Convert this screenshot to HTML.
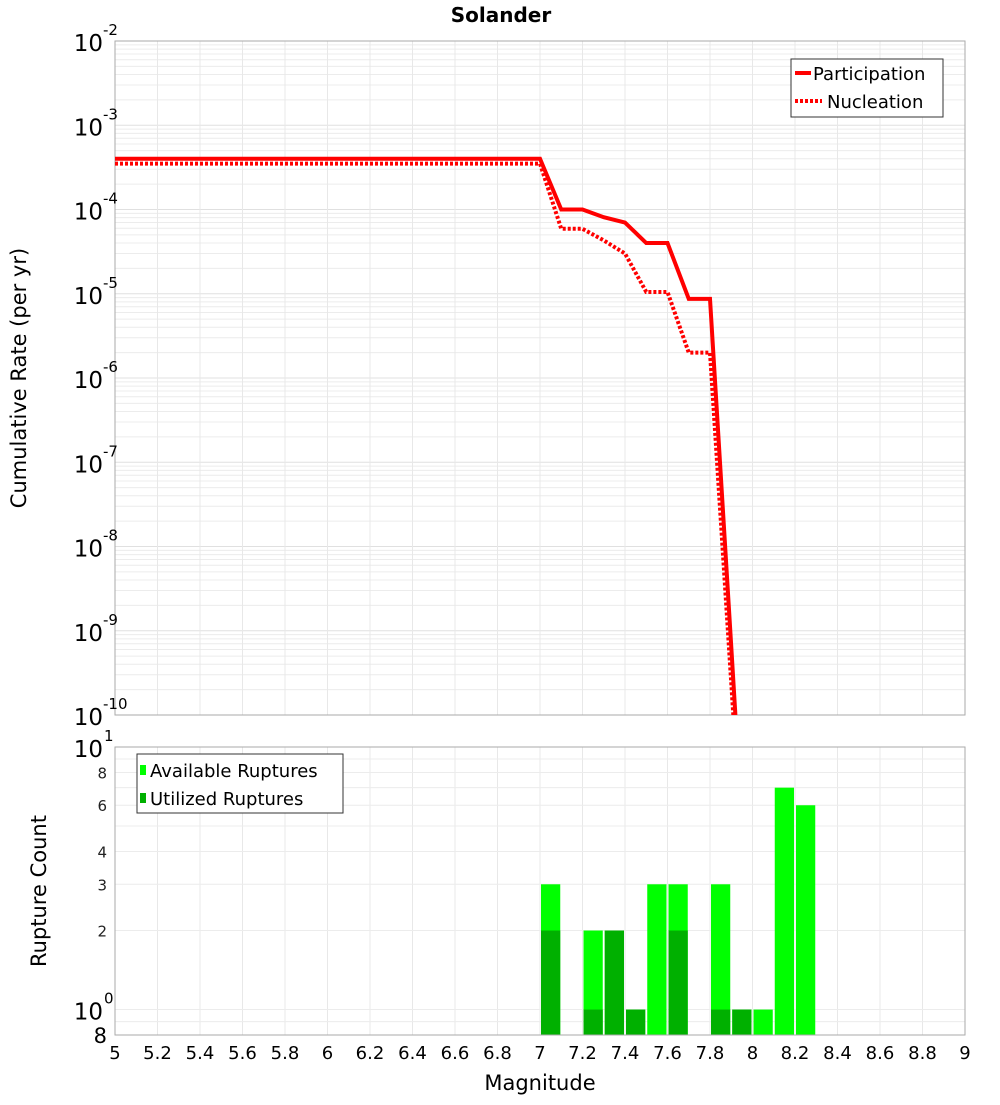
<!DOCTYPE html>
<html><head><meta charset="utf-8"><style>
body{margin:0;background:#fff}
svg text{font-family:"DejaVu Sans","Liberation Sans",sans-serif}
</style></head><body>
<svg id="chart" width="1000" height="1100" xmlns="http://www.w3.org/2000/svg">
<rect width="1000" height="1100" fill="#fff"/>
<text x="501" y="22" font-size="20" font-weight="bold" text-anchor="middle">Solander</text>
<g id="gtop"></g>
<g id="gbot"></g>
<text transform="translate(26,378) rotate(-90)" font-size="21" text-anchor="middle">Cumulative Rate (per yr)</text>
<text transform="translate(46,891) rotate(-90)" font-size="21" text-anchor="middle">Rupture Count</text>
<text x="540" y="1090" font-size="21" text-anchor="middle">Magnitude</text>
<g>
<rect x="791" y="59" width="152" height="58" fill="#fff" stroke="#333"/>
<line x1="795" y1="73" x2="811" y2="73" stroke="red" stroke-width="4"/>
<text x="813" y="80" font-size="18">Participation</text>
<line x1="795" y1="101" x2="822" y2="101" stroke="red" stroke-width="4" stroke-dasharray="3,2"/>
<text x="827" y="108" font-size="18">Nucleation</text>
</g>
<g>
<rect x="137" y="754" width="206" height="59" fill="#fff" stroke="#333"/>
<rect x="140" y="765" width="6" height="10" fill="#00ff00"/>
<text x="150" y="777" font-size="18">Available Ruptures</text>
<rect x="140" y="793" width="6" height="10" fill="#00b000"/>
<text x="150" y="805" font-size="18">Utilized Ruptures</text>
</g>
</svg>
<script>
const mags=[5.0,7.0,7.1,7.2,7.3,7.4,7.5,7.6,7.7,7.8,7.9,8.0];
const participation=[4.0e-4,4.0e-4,1.0e-4,1.0e-4,8.1e-5,7.0e-5,4.0e-5,4.0e-5,8.7e-6,8.7e-6,6.5e-10,4.4e-14];
const nucleation=[3.5e-4,3.5e-4,5.9e-5,5.9e-5,4.3e-5,3.0e-5,1.05e-5,1.05e-5,2.0e-6,2.0e-6,2.4e-10,2.8e-14];
const barMags=[7.0,7.2,7.3,7.4,7.5,7.6,7.8,7.9,8.0,8.1,8.2];
const available=[3,2,2,1,3,3,3,1,1,7,6];
const utilized=[2,1,2,1,0,2,1,1,0,0,0];
const xTicks=[5,5.2,5.4,5.6,5.8,6,6.2,6.4,6.6,6.8,7,7.2,7.4,7.6,7.8,8,8.2,8.4,8.6,8.8,9];
const topDecades=[-2,-3,-4,-5,-6,-7,-8,-9,-10];
const botTicks=[2,3,4,6,8];

const NS="http://www.w3.org/2000/svg";
const L=115,R=965,TT=41,TB=715,BT=747,BB=1035;
const xS=m=>L+(m-5)/4*(R-L);
const yT=v=>TT+(-2-Math.log10(v))*(TB-TT)/8;
const yB=v=>BT+(1-Math.log10(v))*(BB-BT)/(1-Math.log10(0.8));
function mk(p,tag,a,name){const e=document.createElementNS(NS,tag);for(const k in a)e.setAttribute(k,a[k]);


p.appendChild(e);return e;}
const gTop=document.getElementById('gtop'),gBot=document.getElementById('gbot');
for(let d=-10;d<-2;d++)for(let k=1;k<10;k++){const yy=yT(k*Math.pow(10,d));mk(gTop,'line',{x1:L,x2:R,y1:yy,y2:yy,stroke:k==1?'#e0e0e0':'#ececec','stroke-width':1},'top-y-grid');}
xTicks.forEach(t=>{mk(gTop,'line',{x1:xS(t),x2:xS(t),y1:TT,y2:TB,stroke:'#e8e8e8'},'top-x-grid');mk(gBot,'line',{x1:xS(t),x2:xS(t),y1:BT,y2:BB,stroke:'#e8e8e8'},'bottom-x-grid');});
mk(gTop,'rect',{x:L,y:TT,width:R-L,height:TB-TT,fill:'none',stroke:'#aaa'},'top-plot-frame');
topDecades.forEach(d=>{const t=mk(gTop,'text',{x:103,y:yT(Math.pow(10,d))+10,'font-size':23,'text-anchor':'end'},'top-y-tick-label');t.textContent='10';
const s=mk(gTop,'text',{x:103,y:yT(Math.pow(10,d))-6,'font-size':15},'top-y-tick-exponent');s.textContent=String(d);});
const cp=mk(gTop,'clipPath',{id:'cp'},'clip');mk(cp,'rect',{x:L,y:TT,width:R-L,height:TB-TT},'clip-rect');
const pts=arr=>mags.map((m,i)=>xS(m)+','+yT(arr[i])).join(' ');
mk(gTop,'polyline',{points:pts(nucleation),fill:'none',stroke:'red','stroke-width':4,'stroke-dasharray':'3,2','clip-path':'url(#cp)'},'nucleation-line');
mk(gTop,'polyline',{points:pts(participation),fill:'none',stroke:'red','stroke-width':4,'clip-path':'url(#cp)'},'participation-line');
[0.9,1,2,3,4,5,6,7,8,9,10].forEach(v=>{const yy=yB(v);mk(gBot,'line',{x1:L,x2:R,y1:yy,y2:yy,stroke:'#ececec'},'bottom-y-grid');});
barMags.forEach((m,i)=>{const x0=xS(m)+1,w=xS(m+0.1)-xS(m)-2;
mk(gBot,'rect',{x:x0,y:yB(available[i]),width:w,height:BB-yB(available[i]),fill:'#00ff00'},'available-bar');
if(utilized[i]>0)mk(gBot,'rect',{x:x0,y:yB(utilized[i]),width:w,height:BB-yB(utilized[i]),fill:'#00b000'},'utilized-bar');});
mk(gBot,'rect',{x:L,y:BT,width:R-L,height:BB-BT,fill:'none',stroke:'#aaa'},'bottom-plot-frame');
[[10,'1'],[1,'0']].forEach(([v,e])=>{const t=mk(gBot,'text',{x:103,y:yB(v)+10,'font-size':23,'text-anchor':'end'},'bottom-y-tick-label');t.textContent='10';
const s=mk(gBot,'text',{x:104,y:yB(v)-6,'font-size':15},'bottom-y-tick-exponent');s.textContent=e;});
botTicks.forEach(v=>{const t=mk(gBot,'text',{x:107,y:yB(v)+6,'font-size':15,'text-anchor':'end','fill':'#222'},'bottom-y-tick-label');t.textContent=v;});
{const t=mk(gBot,'text',{x:107,y:BB+8,'font-size':21,'text-anchor':'end'},'bottom-y-tick-label');t.textContent='8';}
xTicks.forEach(t=>{const e=mk(gBot,'text',{x:xS(t),y:1059,'font-size':18,'text-anchor':'middle'},'x-tick-label');e.textContent=String(t);});
</script>
</body></html>
